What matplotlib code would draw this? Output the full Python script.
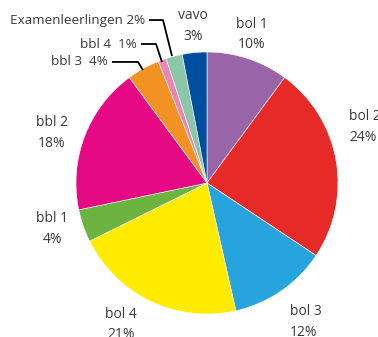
import matplotlib
matplotlib.use("Agg")
import matplotlib.pyplot as plt

plt.rcParams["font.family"] = ["Open Sans", "DejaVu Sans"]

# share of students per learning path (percent)
names = ["bol 1", "bol 2", "bol 3", "bol 4", "bbl 1", "bbl 2",
         "bbl 3", "bbl 4", "Examenleerlingen", "vavo"]
shares = [10, 24, 12, 21, 4, 18, 4, 1, 2, 3]
colors = ["#9a65a8", "#e52a27", "#27a3dd", "#ffeb00", "#6db33f",
          "#e50a84", "#f29222", "#ea86b6", "#8cc5a8", "#004f9e"]

# label placement for the big slices (x, y, align) in pie units
stacked = {"bol 1": (0.344, 1.134, "center"),
           "bol 2": (1.084, 0.427, "left"),
           "bol 3": (0.634, -1.06, "left"),
           "bol 4": (-0.656, -1.08, "center"),
           "bbl 1": (-1.183, -0.351, "center"),
           "bbl 2": (-1.183, 0.382, "center"),
           "vavo": (-0.107, 1.198, "center")}
# small slices get a single line label with a leader line
leaders = {"bbl 3": [(-0.725, 0.924), (-0.527, 0.924), (-0.489, 0.863)],
           "bbl 4": [(-0.504, 1.061), (-0.389, 1.061), (-0.344, 0.924)],
           "Examenleerlingen": [(-0.443, 1.244), (-0.336, 1.244),
                                (-0.267, 0.969)]}

fig = plt.figure(figsize=(3.78, 3.37), dpi=100)
ax = fig.add_axes([76 / 378, 23 / 337, 262 / 378, 262 / 337])
ax.pie(shares, colors=colors, startangle=90, counterclock=False,
       wedgeprops={"edgecolor": "white", "linewidth": 0.4})
ax.set_xlim(-1, 1)
ax.set_ylim(-1, 1)
ax.set_aspect("equal")
ax.axis("off")

txt = "#3a3a3a"
for name, val in zip(names, shares):
    if name in stacked:
        x, y, ha = stacked[name]
        ax.text(x, y, f"{name}\n{val}%", ha=ha, va="center", fontsize=10,
                color=txt, linespacing=1.5, clip_on=False)
    else:
        pts = leaders[name]
        sep = " " if name == "Examenleerlingen" else "  "
        ax.text(pts[0][0] - 0.03, pts[0][1], f"{name}{sep}{val}%", ha="right",
                va="center", fontsize=9.7, color=txt, clip_on=False)
        ax.plot([p[0] for p in pts], [p[1] for p in pts], color="black",
                lw=1.3, clip_on=False, solid_capstyle="butt")

fig.savefig("out.png", dpi=100)
